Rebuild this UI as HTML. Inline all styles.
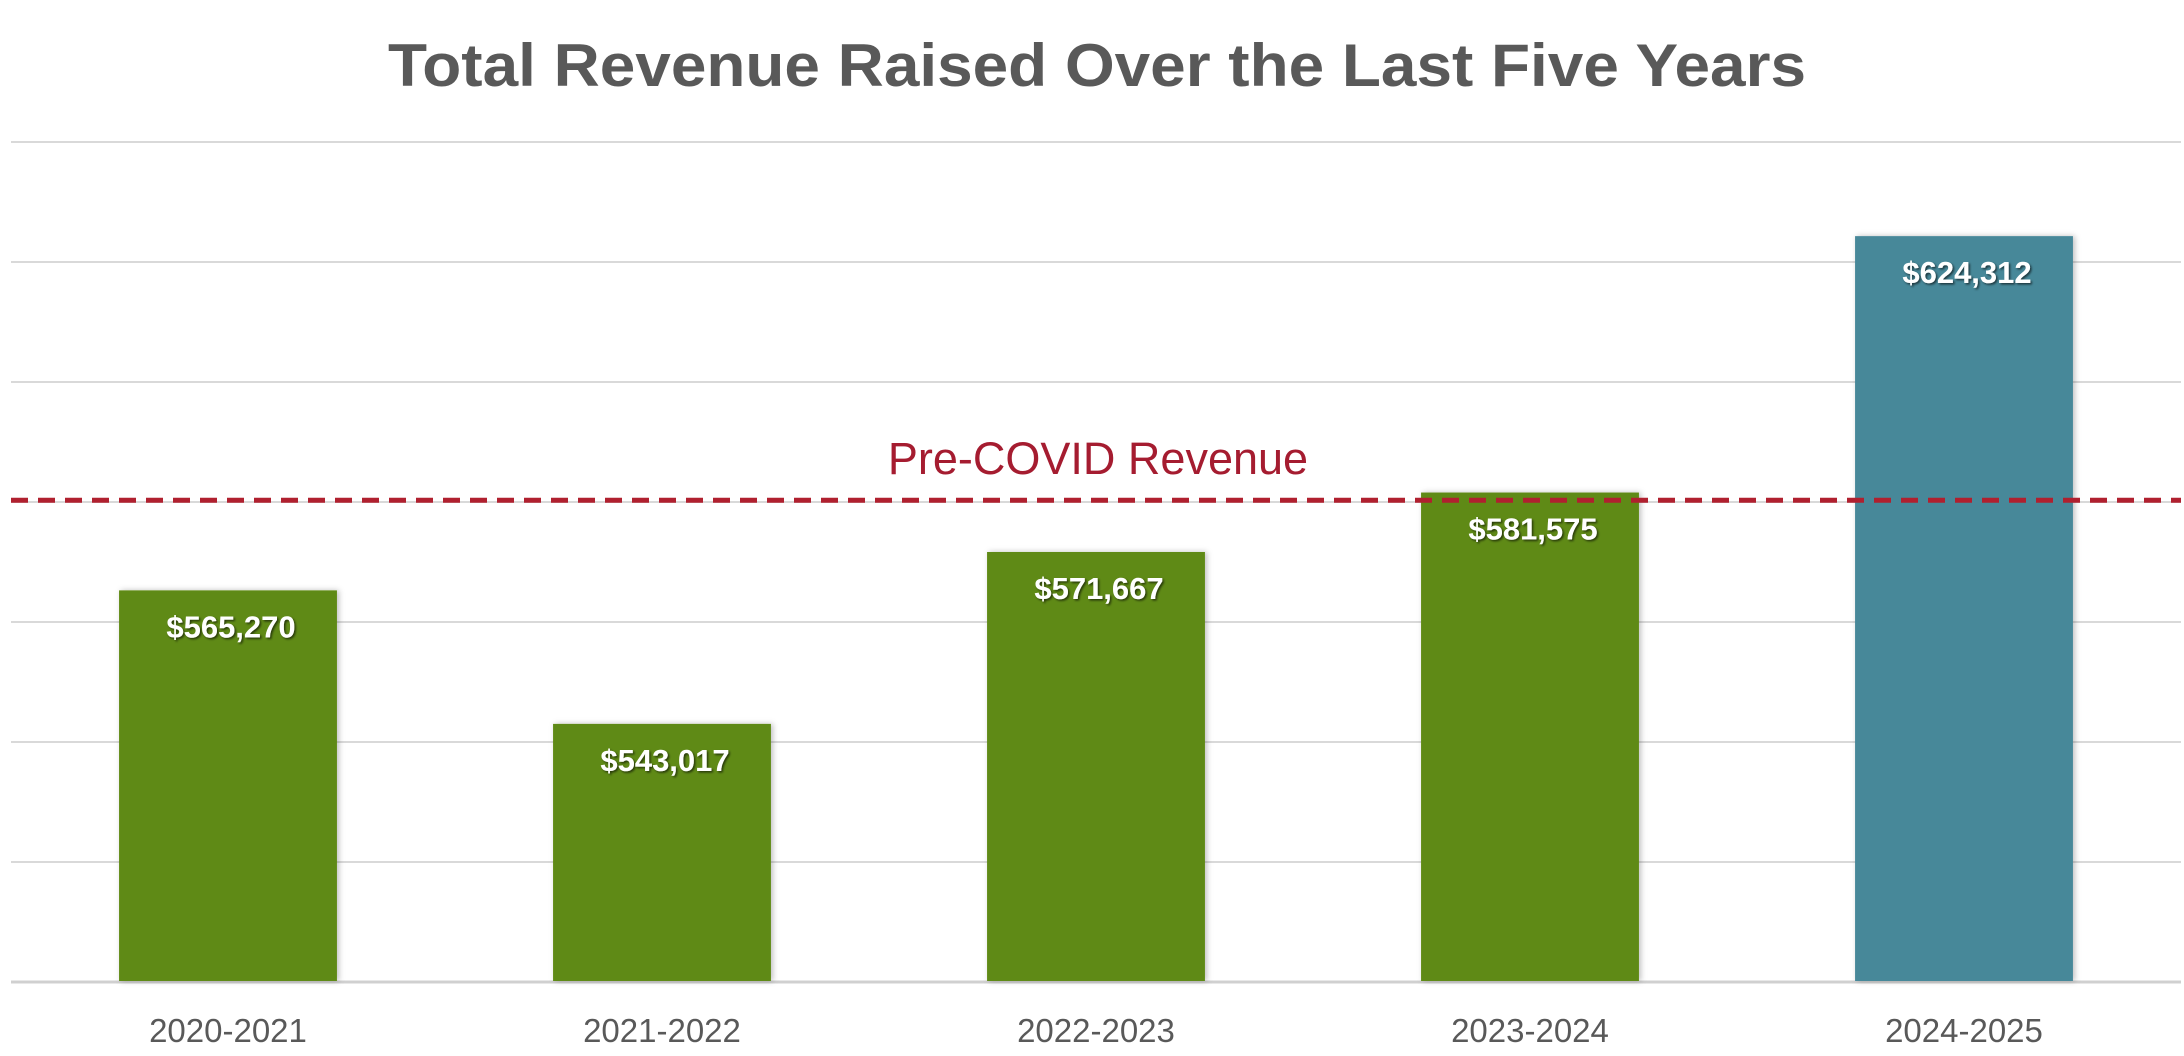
<!DOCTYPE html>
<html><head><meta charset="utf-8"><style>
html,body{margin:0;padding:0;background:#fff;}
svg{display:block;}
text{font-family:"Liberation Sans",sans-serif;}
</style></head><body>
<svg id="chart" width="2184" height="1056" viewBox="0 0 2184 1056" xmlns="http://www.w3.org/2000/svg">
<defs>
<filter id="sh" x="-20%" y="-20%" width="140%" height="140%"><feDropShadow dx="2" dy="0" stdDeviation="3" flood-color="#000" flood-opacity="0.25"/></filter>
<filter id="ts" x="-10%" y="-10%" width="120%" height="140%"><feDropShadow dx="1.5" dy="1.5" stdDeviation="1" flood-color="#000" flood-opacity="0.6"/></filter>
</defs>
<text x="1097" y="86" text-anchor="middle" font-size="60" font-weight="bold" fill="#595959" textLength="1418" lengthAdjust="spacingAndGlyphs">Total Revenue Raised Over the Last Five Years</text>
<g id="grid"></g><g id="bars"></g><g id="labels"></g>
</svg>
<script>
const categories = ["2020-2021","2021-2022","2022-2023","2023-2024","2024-2025"];
const revenue = [565270,543017,571667,581575,624312];
const valueLabels = ["$565,270","$543,017","$571,667","$581,575","$624,312"];
const highlight = [false,false,false,false,true];
const gridValues = [500000,520000,540000,560000,580000,600000,620000,640000];
const preCovid = [580300];

const NS="http://www.w3.org/2000/svg";
const left=11,right=2181,y0=982,y1=142,vMin=500000,vMax=640000;
const bw=(right-left)/categories.length;
const yS=v=>y0-(v-vMin)/(vMax-vMin)*(y0-y1);
const xC=i=>left+bw*(i+0.5);
function mk(t,a,p){const e=document.createElementNS(NS,t);for(const k in a)e.setAttribute(k,a[k]);p.appendChild(e);return e;}
const grid=document.getElementById('grid'),bars=document.getElementById('bars'),labels=document.getElementById('labels');
gridValues.forEach((v,i)=>{
  const l=mk('line',{x1:left,x2:right,y1:yS(v),y2:yS(v),stroke:i===0?'#d0d0d0':'#d9d9d9','stroke-width':i===0?3:2},grid);
  
  
});
const w=bw*0.502;
revenue.forEach((v,i)=>{
  const r=mk('rect',{x:xC(i)-w/2,y:yS(v),width:w,height:y0-yS(v)-1,fill:highlight[i]?'#468899':'#5f8a12',filter:'url(#sh)'},bars);
  
  
  const t=mk('text',{x:xC(i)+3,y:yS(v)+47,'text-anchor':'middle','font-size':31,'font-weight':'bold',fill:'#fff',filter:'url(#ts)'},labels);
  t.textContent=valueLabels[i];
  
  
  const c=mk('text',{x:xC(i),y:1042,'text-anchor':'middle','font-size':33,fill:'#595959'},labels);
  c.textContent=categories[i];
  
  
});
const py=yS(preCovid[0]);
const pl=mk('line',{x1:left,x2:right,y1:py,y2:py,stroke:'#b0202f','stroke-width':5,'stroke-dasharray':'17 10'},labels);


const pt=mk('text',{x:1098,y:py-26,'text-anchor':'middle','font-size':45,fill:'#a51c30'},labels);
pt.textContent='Pre-COVID Revenue';


</script>
</body></html>
